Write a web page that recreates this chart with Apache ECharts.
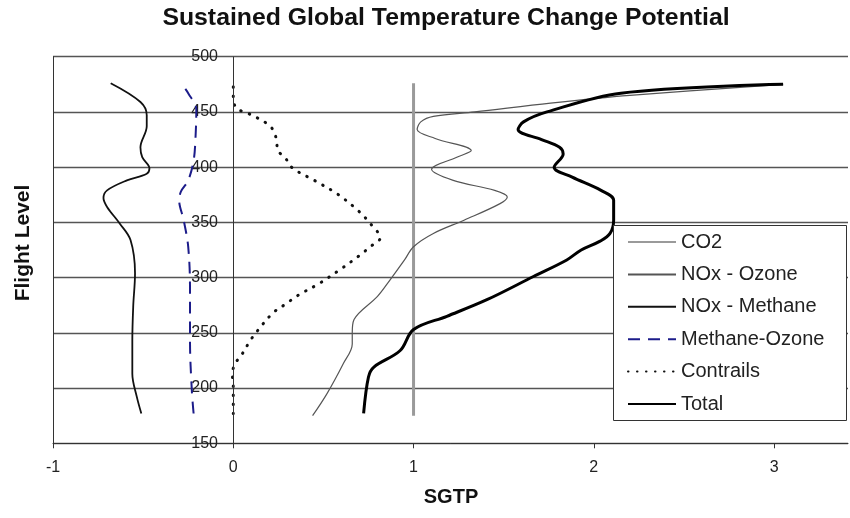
<!DOCTYPE html>
<html>
<head>
<meta charset="utf-8">
<script src="https://cdn.jsdelivr.net/npm/echarts@6/dist/echarts.min.js"></script>
<style>
html,body{margin:0;padding:0;background:#fff;}
#chart{width:850px;height:518px;}
</style>
</head>
<body>
<div id="chart"></div>
<script>
// ---- Data (SGTP vs flight level) ----
const seriesNames = ['CO2', 'NOx - Ozone', 'NOx - Methane', 'Methane-Ozone', 'Contrails', 'Total'];
const xTickLabels = [-1, 0, 1, 2, 3];
const yTickLabels = [150, 200, 250, 300, 350, 400, 450, 500];

const co2FL   = [175, 476];
const co2SGTP = [1, 1];

const noxOzoneFL   = [175, 195, 222, 240, 250, 262, 283, 298, 316, 328, 340, 352, 367, 373, 379, 388, 398, 409, 415, 426, 434, 441, 446, 450, 458, 465, 475];
const noxOzoneSGTP = [0.44, 0.52, 0.61, 0.66, 0.66, 0.67, 0.80, 0.87, 0.95, 1.00, 1.11, 1.28, 1.48, 1.52, 1.45, 1.22, 1.10, 1.24, 1.32, 1.12, 1.02, 1.04, 1.11, 1.34, 1.76, 2.20, 3.05];

const noxMethaneFL   = [177, 192, 213, 243, 274, 304, 334, 349, 364, 372, 379, 388, 394, 399, 409, 418, 437, 447, 459, 476];
const noxMethaneSGTP = [-0.51, -0.535, -0.56, -0.56, -0.555, -0.545, -0.57, -0.63, -0.70, -0.72, -0.70, -0.59, -0.48, -0.465, -0.505, -0.515, -0.48, -0.48, -0.515, -0.68];

const methaneOzoneFL   = [177, 198, 243, 289, 328, 352, 370, 378, 388, 406, 425, 452, 467, 475];
const methaneOzoneSGTP = [-0.22, -0.23, -0.24, -0.24, -0.25, -0.275, -0.30, -0.29, -0.25, -0.22, -0.21, -0.205, -0.25, -0.285];

const contrailsFL   = [177, 201, 213, 222, 231, 242, 251, 268, 276, 284, 295, 307, 320, 328, 336, 349, 361, 376, 388, 399, 408, 416, 425, 437, 449, 453, 462, 476];
const contrailsSGTP = [0, 0, -0.005, 0.01, 0.05, 0.09, 0.13, 0.22, 0.29, 0.36, 0.48, 0.59, 0.70, 0.76, 0.815, 0.76, 0.69, 0.575, 0.45, 0.33, 0.29, 0.245, 0.24, 0.205, 0.08, 0.02, 0, 0];

const totalFL   = [177, 210, 219, 234, 253, 265, 280, 301, 316, 325, 333, 340, 352, 370, 379, 391, 400, 412, 418, 425, 434, 441, 450, 467, 475];
const totalSGTP = [0.723, 0.75, 0.78, 0.926, 1.0, 1.185, 1.407, 1.665, 1.85, 1.93, 2.035, 2.09, 2.11, 2.11, 2.04, 1.88, 1.78, 1.83, 1.81, 1.71, 1.58, 1.61, 1.74, 2.15, 3.05];

function pts(xs, ys) { return xs.map((x, i) => [x, ys[i]]); }

const FONT = '"Liberation Sans", Arial, sans-serif';
const chart = echarts.init(document.getElementById('chart'), null, {renderer: 'canvas'});

function lineSeries(name, xs, ys, color, width, type, smooth, extra) {
  return Object.assign({
    name: name,
    type: 'line',
    data: pts(xs, ys),
    symbol: 'none',
    smooth: smooth,
    z: 2,
    color: color,
    lineStyle: {color: color, width: width, type: type},
    animation: false
  }, extra || {});
}

chart.setOption({
  animation: false,
  backgroundColor: '#fff',
  grid: {
    left: 53, right: 2, top: 56.7, bottom: 74.7,
    show: false
  },
  xAxis: {
    type: 'value', min: -1, max: 3.41, interval: 1,
    axisLine: {onZero: false, lineStyle: {color: '#333', width: 1}},
    axisTick: {show: true, length: 5, lineStyle: {color: '#333'}},
    axisLabel: {
      margin: 16, fontSize: 16, color: '#222', fontFamily: FONT,
      showMaxLabel: false,
      formatter: function (v) { return xTickLabels.indexOf(v) >= 0 ? String(v) : ''; }
    },
    splitLine: {show: false}
  },
  yAxis: {
    type: 'value', min: 150, max: 500, interval: 50,
    axisLine: {onZero: false, lineStyle: {color: '#333', width: 1}},
    axisTick: {show: false},
    axisLabel: {
      margin: -165, fontSize: 16, color: '#222', fontFamily: FONT,
      formatter: function (v) { return yTickLabels.indexOf(v) >= 0 ? String(v) : ''; }
    },
    splitLine: {show: true, lineStyle: {color: '#555', width: 1.3}}
  },
  legend: {
    data: seriesNames,
    orient: 'vertical',
    left: 627, top: 232,
    padding: 0,
    itemWidth: 48, itemHeight: 14, itemGap: 12.4,
    z: 6,
    itemStyle: {opacity: 0},
    textStyle: {fontSize: 20, lineHeight: 20, color: '#222', fontFamily: FONT},
    selectedMode: false
  },
  graphic: [
    {
      type: 'rect', z: 5,
      shape: {x: 613.5, y: 225.5, width: 233, height: 195},
      style: {fill: '#fff', stroke: '#333', lineWidth: 1}
    },
    {
      type: 'text', x: 446, y: 18, z: 10,
      style: {text: 'Sustained Global Temperature Change Potential', fontSize: 24.8, fontWeight: 'bold', fontFamily: FONT, fill: '#111', align: 'center', verticalAlign: 'middle'}
    },
    {
      type: 'text', x: 23, y: 243, rotation: Math.PI / 2, z: 10,
      style: {text: 'Flight Level', fontSize: 21, fontWeight: 'bold', fontFamily: FONT, fill: '#111', align: 'center', verticalAlign: 'middle'}
    },
    {
      type: 'text', x: 451, y: 497, z: 10,
      style: {text: 'SGTP', fontSize: 20, fontWeight: 'bold', fontFamily: FONT, fill: '#111', align: 'center', verticalAlign: 'middle'}
    }
  ],
  series: [
    lineSeries('CO2', co2SGTP, co2FL, '#9a9a9a', 3, 'solid', false),
    lineSeries('NOx - Ozone', noxOzoneSGTP, noxOzoneFL, '#555555', 1.2, 'solid', 0.35),
    lineSeries('NOx - Methane', noxMethaneSGTP, noxMethaneFL, '#111111', 1.8, 'solid', 0.35, {
      markLine: {
        silent: true, symbol: 'none', animation: false,
        label: {show: false},
        lineStyle: {color: '#333', width: 1, type: 'solid'},
        data: [{xAxis: 0}]
      }
    }),
    lineSeries('Methane-Ozone', methaneOzoneSGTP, methaneOzoneFL, '#1c1c8a', 2, [12, 8], 0.35),
    lineSeries('Contrails', contrailsSGTP, contrailsFL, '#111111', 3, [0.5, 8.5], 0.35, {lineStyle: {color: '#111111', width: 3, type: [0.5, 8.5], cap: 'round'}}),
    lineSeries('Total', totalSGTP, totalFL, '#000000', 3, 'solid', 0.35)
  ]
});
</script>
</body>
</html>
